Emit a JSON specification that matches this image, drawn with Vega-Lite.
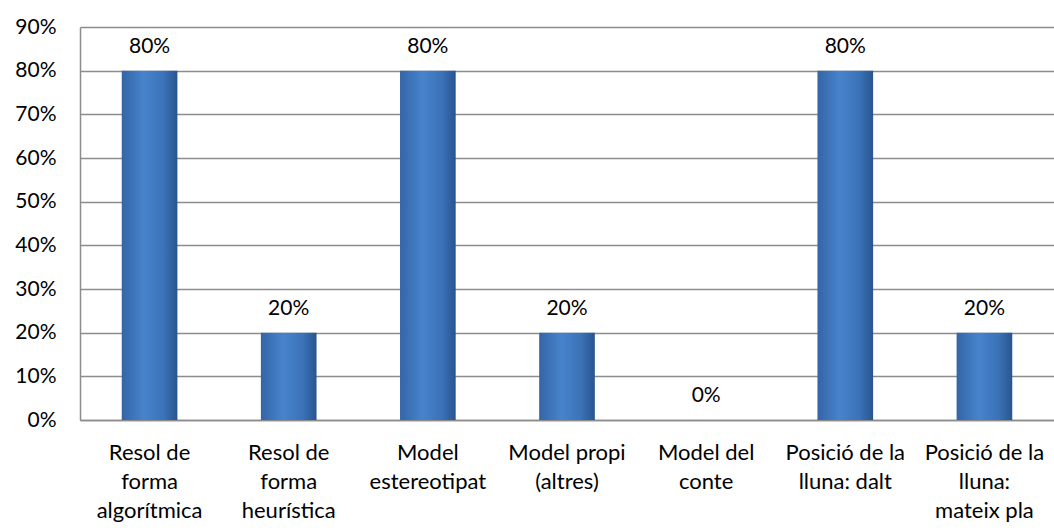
{
  "$schema": "https://vega.github.io/schema/vega-lite/v6.json",
  "width": 974,
  "height": 393,
  "autosize": "none",
  "padding": {"left": 80, "top": 27, "right": 0, "bottom": 110},
  "background": "white",
  "config": {
    "view": {"stroke": null},
    "font": "Lato",
    "axis": {"labelFont": "Lato", "labelColor": "#000000", "labelFontSize": 21}
  },
  "data": {
    "values": [
      {"categoria": "Resol de\nforma\nalgorítmica", "percentatge": 0.8},
      {"categoria": "Resol de\nforma\nheurística", "percentatge": 0.2},
      {"categoria": "Model\nestereotipat", "percentatge": 0.8},
      {"categoria": "Model propi\n(altres)", "percentatge": 0.2},
      {"categoria": "Model del\nconte", "percentatge": 0.0},
      {"categoria": "Posició de la\nlluna: dalt", "percentatge": 0.8},
      {"categoria": "Posició de la\nlluna:\nmateix pla", "percentatge": 0.2}
    ]
  },
  "encoding": {
    "x": {
      "field": "categoria",
      "type": "nominal",
      "sort": null,
      "scale": {"paddingInner": 0, "paddingOuter": 0},
      "axis": {
        "title": null,
        "labelAngle": 0,
        "labelExpr": "split(datum.label, '\\n')",
        "labelBaseline": "top",
        "labelFontSize": 22,
        "labelLineHeight": 29,
        "labelPadding": 22,
        "ticks": false,
        "domainColor": "#8c8c8c",
        "domainWidth": 1.5,
        "labelLimit": 0
      }
    },
    "y": {
      "field": "percentatge",
      "type": "quantitative",
      "scale": {"domain": [0, 0.9], "nice": false},
      "axis": {
        "title": null,
        "format": ".0%",
        "values": [0, 0.1, 0.2, 0.3, 0.4, 0.5, 0.6, 0.7, 0.8, 0.9],
        "ticks": false,
        "labelPadding": 24,
        "domainColor": "#8c8c8c",
        "domainWidth": 1.5,
        "gridColor": "#8c8c8c",
        "gridWidth": 1.5,
        "gridOpacity": 1
      }
    }
  },
  "layer": [
    {
      "mark": {
        "type": "bar",
        "width": {"band": 0.4},
        "color": {
          "gradient": "linear",
          "x1": 0, "x2": 1, "y1": 0, "y2": 0,
          "stops": [
            {"offset": 0, "color": "#3465a6"},
            {"offset": 0.4, "color": "#4783cc"},
            {"offset": 0.75, "color": "#3b72b8"},
            {"offset": 1, "color": "#28558f"}
          ]
        }
      }
    },
    {
      "mark": {"type": "text", "baseline": "alphabetic", "dy": -18, "fontSize": 21, "color": "#000000", "font": "Lato"},
      "encoding": {
        "text": {"field": "percentatge", "type": "quantitative", "format": ".0%"}
      }
    }
  ]
}
